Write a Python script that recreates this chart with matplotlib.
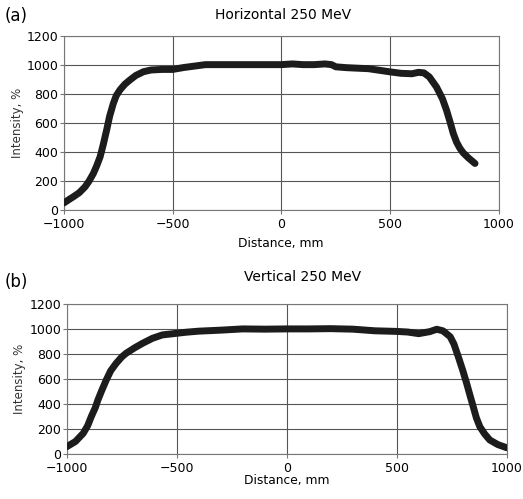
import matplotlib.pyplot as plt

# (a) horizontal profile
h_dist = [-1000, -980, -957, -930, -903, -885, -865, -850, -834, -820, -804,
          -790, -773, -760, -743, -720, -697, -670, -635, -600, -550, -500,
          -450, -400, -350, -300, -200, -100, 0, 50, 100, 150, 200, 230, 250,
          300, 400, 500, 550, 600, 630, 655, 680, 713, 740, 759, 775, 790,
          805, 820, 836, 860, 890]
h_int = [50, 70, 92, 120, 161, 200, 253, 305, 368, 450, 553,
         650, 738, 790, 830, 870, 899, 930, 956, 968, 972, 972,
         985, 995, 1005, 1005, 1005, 1005, 1005, 1010, 1005, 1005, 1010, 1005, 990,
         984, 977, 955, 945, 942, 952, 948, 920, 850, 770, 690, 610, 530,
         470, 428, 395, 360, 322]

# (b) vertical profile
v_dist = [-1000, -960, -925, -905, -888, -870, -858, -840, -820, -800, -775,
          -750, -730, -690, -655, -610, -565, -500, -460, -400, -300, -200,
          -100, 0, 100, 200, 300, 400, 500, 550, 600, 650, 682, 710, 743,
          760, 780, 800, 818, 833, 848, 862, 878, 900, 923, 960, 1000]
v_int = [58, 100, 165, 225, 300, 370, 432, 510, 592, 665, 725,
         775, 805, 850, 885, 925, 952, 965, 973, 982, 990, 1000,
         998, 1000, 1000, 1002, 998, 985, 980, 975, 962, 978, 997, 985, 938,
         880, 778, 670, 565, 470, 378, 290, 218, 160, 112, 75, 50]

panels = [
    ('(a)', 'Horizontal 250 MeV', h_dist, h_int,
     [0.1224, 0.579, 0.8316, 0.348], 0.968, 0.541, 0.970, 0.513),
    ('(b)', 'Vertical 250 MeV', v_dist, v_int,
     [0.1275, 0.0902, 0.8413, 0.3008], 0.435, 0.579, 0.445, 0.038),
]

fig = plt.figure(figsize=(5.23, 4.99), dpi=100)

for tag, title, x, y, pos, tag_y, title_x, title_y, xlab_y in panels:
    ax = fig.add_axes(pos)
    ax.plot(x, y, color='#1c1c1c', linewidth=5, solid_capstyle='round',
            solid_joinstyle='round', zorder=3)
    ax.set_xlim(-1000, 1000)
    ax.set_ylim(0, 1200)
    ax.set_xticks([-1000, -500, 0, 500, 1000])
    ax.set_xticklabels(['\u22121000', '\u2212500', '0', '500', '1000'])
    ax.set_yticks(range(0, 1201, 200))
    ax.grid(True, color='#555555', linewidth=0.8)
    for s in ax.spines.values():
        s.set_color('#777777')
        s.set_linewidth(0.8)
    ax.tick_params(labelsize=9, length=3, width=0.8, color='#777777', pad=1)
    ax.tick_params(axis='x', pad=2.5)
    ax.set_ylabel('Intensity, %', fontsize=8.5, labelpad=2, color='#333333')
    fig.text(title_x, title_y, title, fontsize=10, ha='center', va='center')
    fig.text(title_x - 0.005 if tag == '(a)' else 0.548, xlab_y, 'Distance, mm',
             fontsize=8.8, ha='center', va='center')
    fig.text(0.008, tag_y, tag, fontsize=12, va='center', ha='left')

fig.savefig('out.png', dpi=100)
